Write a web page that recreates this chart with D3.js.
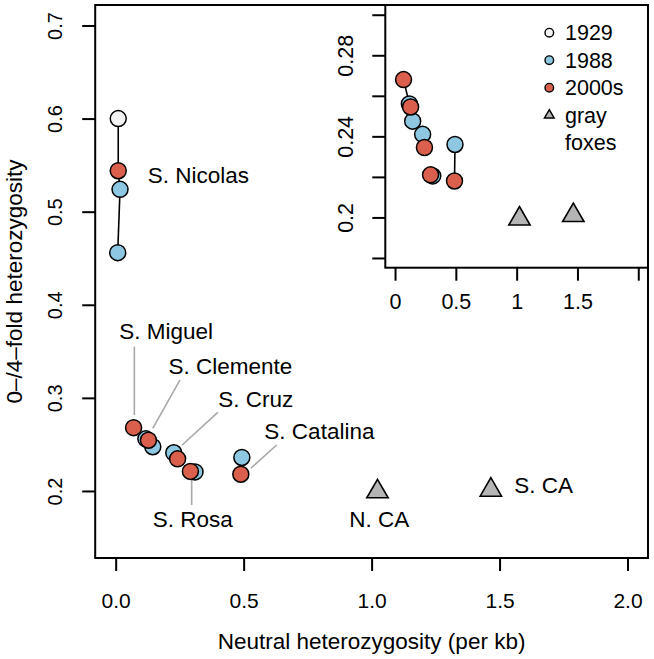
<!DOCTYPE html>
<html><head><meta charset="utf-8">
<script src="https://cdn.jsdelivr.net/npm/d3@7"></script>
<style>
body{margin:0;background:#fff}
svg text{font-family:"Liberation Sans",Arial,Helvetica,sans-serif;fill:#000}
</style>
</head><body>
<svg id="chart" width="654" height="659"></svg>
<script>
// ---------------- data ----------------
const years = ["1929", "1988", "2000s"];
const sampleIsland = ["S. Nicolas","S. Nicolas","S. Nicolas","S. Nicolas",
  "S. Miguel","S. Miguel","S. Clemente","S. Clemente","S. Cruz","S. Cruz",
  "S. Rosa","S. Rosa","S. Catalina","S. Catalina"];
const sampleYear = ["1929","2000s","1988","1988",
  "1988","2000s","1988","2000s","1988","2000s","1988","2000s","1988","2000s"];
const sampleNeutral = [0.010,0.010,0.017,0.008,
  0.118,0.070,0.145,0.128,0.227,0.242,0.310,0.292,0.493,0.489];
const sampleRatio = [0.600,0.544,0.524,0.456,
  0.256,0.268,0.2475,0.2545,0.241,0.2345,0.2205,0.221,0.236,0.218];

const foxNames = ["N. CA", "S. CA"];
const foxNeutral = [1.023, 1.466];
const foxRatio = [0.1993, 0.201];

const mainXTicks = [0, 0.5, 1, 1.5, 2];
const mainXTickLabels = ["0.0","0.5","1.0","1.5","2.0"];
const mainYTicks = [0.2, 0.3, 0.4, 0.5, 0.6, 0.7];
const insetXTicks = [0, 0.5, 1, 1.5, 2];
const insetXTickLabels = ["0","0.5","1","1.5",""];
const insetYTicks = [0.18, 0.20, 0.22, 0.24, 0.26, 0.28, 0.30];
const insetYTickLabels = ["","0.2","","0.24","","0.28",""];
const legendLabels = ["1929","1988","2000s","gray","foxes"];

// ---------------- styles / layout ----------------
const yearFill = {"1929":"#F3F3F3","1988":"#8EC7E2","2000s":"#DA5F4C"};
const foxFill = "#B5B5B5";
const leaderColor = "#A8A8A8";
const FONT_LABEL = 22.5, FONT_XTICK = 21, FONT_YTICK = 20, FONT_TITLE = 22.5, FONT_LEG = 21.5,
      FONT_IXTICK = 21.5, FONT_IYTICK = 21.5;

// label layout in data units: [text, xStart, yBaseline, leader x1,y1,x2,y2 or null]
const labelLayout = [
  ["S. Nicolas", 0.125, 0.531, null],
  ["S. Miguel", 0.014, 0.3629, [0.073,0.355,0.073,0.2816]],
  ["S. Clemente", 0.206, 0.3256, [0.251,0.319,0.145,0.2673]],
  ["S. Cruz", 0.401, 0.2905, [0.399,0.2845,0.260,0.2494]],
  ["S. Catalina", 0.581, 0.2555, [0.629,0.2494,0.528,0.2244]],
  ["S. Rosa", 0.145, 0.1616, [0.297,0.2118,0.297,0.1849]],
  ["N. CA", 0.913, 0.161, null],
  ["S. CA", 1.557, 0.1975, null]
];

const svg = d3.select("#chart");
const pad = (a,b) => { const d=(b-a)*0.04; return [a-d, b+d]; };

const M = {l:95.2, r:648, t:5, b:558};
const x = d3.scaleLinear().domain(pad(0,2)).range([M.l, M.r]);
const y = d3.scaleLinear().domain(pad(0.15,0.70)).range([M.b, M.t]);

const I = {l:385.3, r:648, t:5, b:267.7};
const xi = d3.scaleLinear().domain(pad(0,2)).range([I.l, I.r]);
const yi = d3.scaleLinear().domain(pad(0.18,0.30)).range([I.b, I.t]);

const samples = sampleIsland.map((isl,i)=>({island:isl, year:sampleYear[i], nx:sampleNeutral[i], ry:sampleRatio[i]}));
const foxes = foxNames.map((n,i)=>({name:n, nx:foxNeutral[i], ry:foxRatio[i]}));
const islands = Array.from(new Set(sampleIsland));

function triPath(h){ // centroid-centred triangle, height h
  const a = h/3;
  return `M0,${-2*a}L${a*Math.sqrt(3)},${a}L${-a*Math.sqrt(3)},${a}Z`;
}

function drawPanel(g, xs, ys, r){
  const line = d3.line().x(d=>xs(d.nx)).y(d=>ys(d.ry));
  islands.forEach(isl=>{
    g.append("path").datum(samples.filter(s=>s.island===isl))
      .attr("d", line).attr("fill","none").attr("stroke","#000").attr("stroke-width",1.6);
  });
  years.forEach(yr=>{
    g.selectAll(null).data(samples.filter(s=>s.year===yr)).enter().append("circle")
      .attr("cx",d=>xs(d.nx)).attr("cy",d=>ys(d.ry)).attr("r",r)
      .attr("fill",yearFill[yr]).attr("stroke","#000").attr("stroke-width",1.5);
  });
  g.selectAll(null).data(foxes).enter().append("path")
    .attr("d", triPath(18.5))
    .attr("transform", d=>`translate(${xs(d.nx)},${ys(d.ry)})`)
    .attr("fill",foxFill).attr("stroke","#000").attr("stroke-width",1.6).attr("stroke-linejoin","miter");
}

// ---------- main panel ----------
const main = svg.append("g");
labelLayout.forEach(([t,lx,ly,ld])=>{
  if(ld){
    main.append("line").attr("x1",x(ld[0])).attr("y1",y(ld[1])).attr("x2",x(ld[2])).attr("y2",y(ld[3]))
      .attr("stroke",leaderColor).attr("stroke-width",1.6);
  }
});
drawPanel(main, x, y, 8);
labelLayout.forEach(([t,lx,ly])=>{
  main.append("text").attr("x",x(lx)).attr("y",y(ly)).attr("font-size",FONT_LABEL).text(t);
});

const xAxis = d3.axisBottom(x).tickValues(mainXTicks).tickSize(13).tickFormat((d,i)=>mainXTickLabels[i]);
const gx = main.append("g").attr("transform",`translate(0,${M.b})`).call(xAxis);
gx.select(".domain").remove();
gx.selectAll("line").attr("stroke","#000").attr("stroke-width",2);
gx.selectAll("text").attr("y",50).attr("dy",null).attr("font-size",FONT_XTICK).attr("font-family",null);

const yAxis = d3.axisLeft(y).tickValues(mainYTicks).tickSize(13).tickFormat(d3.format(".1f"));
const gy = main.append("g").attr("transform",`translate(${M.l},0)`).call(yAxis);
gy.select(".domain").remove();
gy.selectAll("line").attr("stroke","#000").attr("stroke-width",2);
gy.selectAll("text").attr("x",0).attr("y",-33).attr("dy",null).attr("transform","rotate(-90)")
  .attr("text-anchor","middle").attr("font-size",FONT_YTICK).attr("font-family",null);

main.append("rect").attr("x",M.l).attr("y",M.t).attr("width",M.r-M.l).attr("height",M.b-M.t)
  .attr("fill","none").attr("stroke","#000").attr("stroke-width",2);

svg.append("text").attr("x",(M.l+M.r)/2).attr("y",649).attr("text-anchor","middle")
  .attr("font-size",FONT_TITLE).text("Neutral heterozygosity (per kb)");
svg.append("text").attr("transform",`translate(22,${(M.t+M.b)/2}) rotate(-90)`).attr("text-anchor","middle")
  .attr("font-size",FONT_TITLE).text("0\u2013/4\u2013fold heterozygosity");

// ---------- inset ----------
const inset = svg.append("g");
inset.append("rect").attr("x",I.l).attr("y",I.t).attr("width",I.r-I.l).attr("height",I.b-I.t).attr("fill","#fff");
const clipId = "insetclip";
svg.append("defs").append("clipPath").attr("id",clipId).append("rect")
  .attr("x",I.l).attr("y",I.t).attr("width",I.r-I.l).attr("height",I.b-I.t);
drawPanel(inset.append("g").attr("clip-path",`url(#${clipId})`), xi, yi, 8);

const xiAxis = d3.axisBottom(xi).tickValues(insetXTicks).tickSize(13).tickFormat((d,i)=>insetXTickLabels[i]);
const gxi = inset.append("g").attr("transform",`translate(0,${I.b})`).call(xiAxis);
gxi.select(".domain").remove();
gxi.selectAll("line").attr("stroke","#000").attr("stroke-width",2);
gxi.selectAll("text").attr("y",41).attr("dy",null).attr("font-size",FONT_IXTICK).attr("font-family",null);

const yiAxis = d3.axisLeft(yi).tickValues(insetYTicks).tickSize(13).tickFormat((d,i)=>insetYTickLabels[i]);
const gyi = inset.append("g").attr("transform",`translate(${I.l},0)`).call(yiAxis);
gyi.select(".domain").remove();
gyi.selectAll("line").attr("stroke","#000").attr("stroke-width",2);
gyi.selectAll("text").attr("x",0).attr("y",-32).attr("dy",null).attr("transform","rotate(-90)")
  .attr("text-anchor","middle").attr("font-size",FONT_IYTICK).attr("font-family",null);

inset.append("rect").attr("x",I.l).attr("y",I.t).attr("width",I.r-I.l).attr("height",I.b-I.t)
  .attr("fill","none").attr("stroke","#000").attr("stroke-width",2);

// legend
const legX = 549.3, legTextX = 565, legY0 = 32.7, legDY = 27.5;
const leg = inset.append("g");
years.forEach((yr,i)=>{
  leg.append("circle").attr("cx",legX).attr("cy",legY0+i*legDY).attr("r",4.3)
    .attr("fill",yearFill[yr]).attr("stroke","#000").attr("stroke-width",1.4);
});
leg.append("path").attr("d",triPath(8.5)).attr("transform",`translate(${legX},${legY0+3*legDY})`)
  .attr("fill",foxFill).attr("stroke","#000").attr("stroke-width",1.4);
legendLabels.forEach((t,i)=>{
  leg.append("text").attr("x",legTextX).attr("y",legY0+i*legDY+7.5).attr("font-size",FONT_LEG).text(t);
});
</script>
</body></html>
